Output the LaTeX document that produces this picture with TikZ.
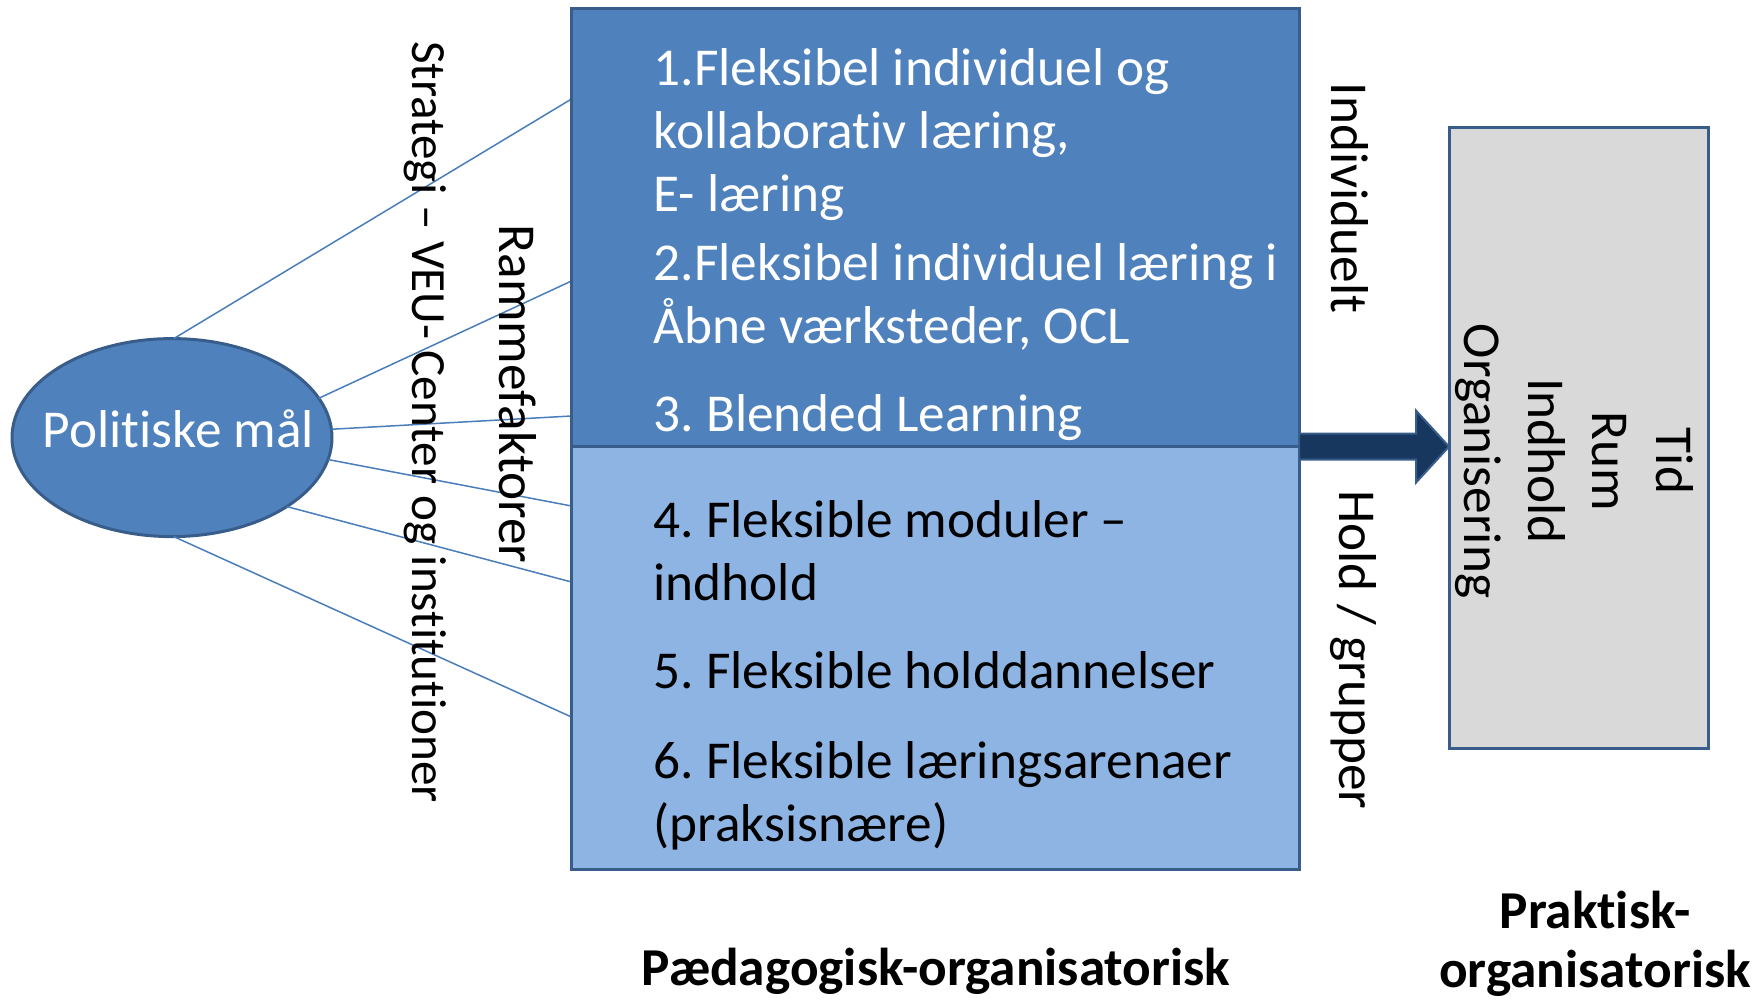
\documentclass[tikz,border=0pt]{standalone}
\usepackage{fontspec}
\setmainfont{Carlito}[Ligatures=NoCommon]
\usetikzlibrary{shapes.geometric,calc}
\definecolor{upblue}{HTML}{4F81BD}
\definecolor{lowblue}{HTML}{8EB4E3}
\definecolor{edgeblue}{HTML}{385D8A}
\definecolor{linkblue}{HTML}{4A7EBB}
\definecolor{navyfill}{HTML}{17375E}
\definecolor{greyfill}{HTML}{D9D9D9}
\begin{document}
\frenchspacing
\begin{tikzpicture}[x=1pt,y=-1pt,
  every node/.style={font=\fontsize{53.3}{64}\selectfont, inner sep=0pt, outer sep=0pt},
  boxpart/.style={rectangle, draw=edgeblue, line width=3pt, minimum width=727.5pt, anchor=north west},
  link/.style={draw=linkblue, line width=1.5pt},
  itemw/.style={anchor=base west, text=white},
  itemb/.style={anchor=base west, text=black},
  vlabel/.style={rotate=-90, anchor=center},
  boldlab/.style={font=\bfseries\fontsize{53.3}{59}\selectfont, align=center}]
\useasboundingbox (0,0) rectangle (1764,1001);
% connectors
\coordinate (e1) at (571.5,99);
\coordinate (e2) at (571.5,281);
\coordinate (e3) at (571.5,416);
\coordinate (e4) at (571.5,506);
\coordinate (e5) at (571.5,582);
\coordinate (e6) at (571.5,717);
\node[ellipse, draw=edgeblue, fill=upblue, line width=3pt, minimum width=320pt, minimum height=198pt, text=white, text depth=18pt] (pm) at (172,437.6) {\makebox[0pt]{\hspace*{13pt}Politiske mål}};
\draw[link] (pm.89) -- (e1);
\draw[link] (pm.15.6) -- (e2);
\draw[link] (pm.3.6) -- (e3);
\draw[link] (pm.-8.5) -- (e4);
\draw[link] (pm.-31.7) -- (e5);
\draw[link] (pm.-89) -- (e6);
% main box
\node[boxpart, fill=upblue, minimum height=438.6pt] (upper) at (571.5,8) {};
\node[boxpart, fill=lowblue, minimum height=423pt] (lower) at (571.5,446.6) {};
% items
\node[itemw] (t1) at (653.6,85.5) {1.Fleksibel individuel og};
\node[itemw] (t2) at (653.6,148.5) {kollaborativ læring,};
\node[itemw] (t3) at (653.6,211.5) {E- læring};
\node[itemw] (t4) at (653.6,280) {2.Fleksibel individuel læring i};
\node[itemw] (t5) at (653.6,343) {Åbne værksteder, OCL};
\node[itemw] (t6) at (653.6,431) {3. Blended Learning};
\node[itemb] (t7) at (653.6,537) {4. Fleksible moduler –};
\node[itemb] (t8) at (653.6,600) {indhold};
\node[itemb] (t9) at (653.6,688.5) {5. Fleksible holddannelser};
\node[itemb] (t10) at (653.6,778.5) {6. Fleksible læringsarenaer};
\node[itemb] (t11) at (653.6,841.5) {(praksisnære)};
% vertical labels
\node[vlabel, font=\fontsize{49.2}{59}\selectfont] (strat) at (425,422) {Strategi – VEU- Center og institutioner};
\node[vlabel] (ramme) at (517.5,394) {Rammefaktorer};
\node[vlabel] (indiv) at (1350,198) {Individuelt};
\node[vlabel] (hold) at (1353,650) {Hold / grupper};
% practical box
\node[rectangle, draw=edgeblue, fill=greyfill, line width=3pt, minimum width=259pt, minimum height=621pt, anchor=north west] (prakt) at (1449,127) {};
\node[rotate=-90, align=center, font=\fontsize{53.3}{64}\selectfont] (dims) at (1574,461) {Tid\\Rum\\Indhold\\Organisering};
% block arrow
\coordinate (atail) at (upper.south east);
\coordinate (atip) at (prakt.west |- atail);
\draw[draw=edgeblue, fill=navyfill, line width=2pt]
  ($(atail)+(0,-13)$) -- ($(atip)+(-33,-13)$) -- ($(atip)+(-33,-36)$) -- (atip)
  -- ($(atip)+(-33,36)$) -- ($(atip)+(-33,13)$) -- ($(atail)+(0,13)$) -- cycle;
% bottom labels
\node[boldlab, anchor=base] (pedlab) at (936,985) {Pædagogisk-organisatorisk};
\node[boldlab] (praklab) at (1595,944) {Praktisk-\\organisatorisk};
\end{tikzpicture}
\end{document}
